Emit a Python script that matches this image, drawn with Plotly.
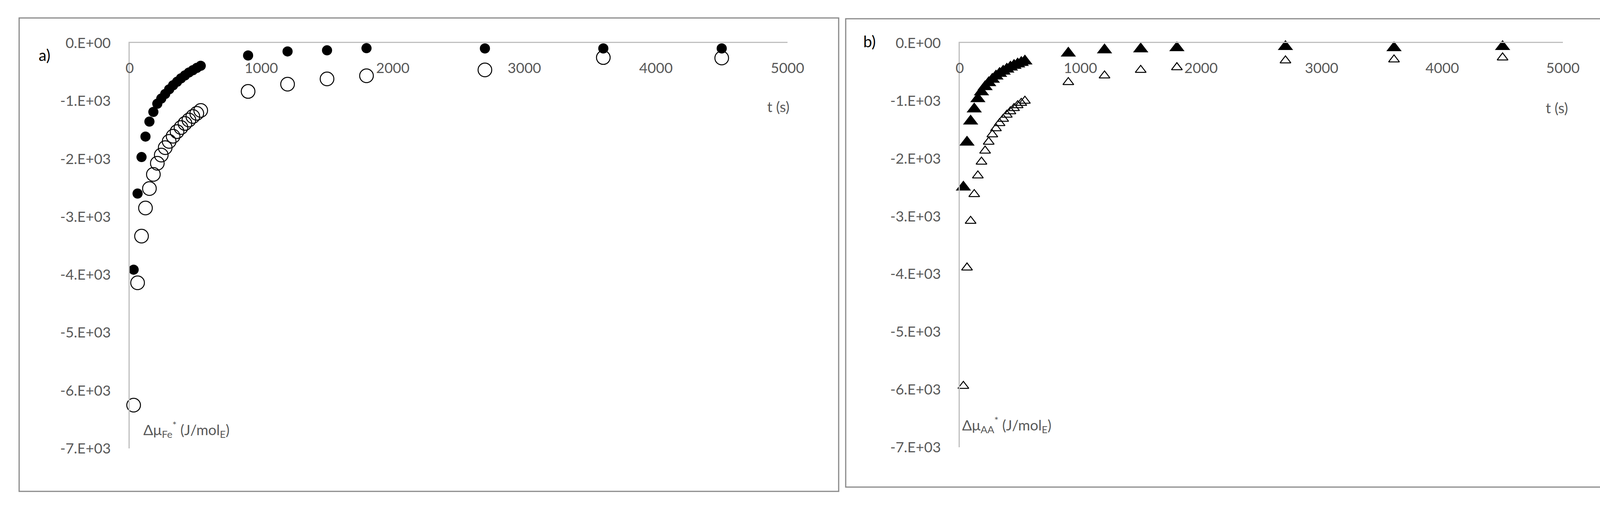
import plotly.graph_objects as go

# time points (s), same for both panels
t = [30, 60, 90, 120, 150, 180, 210, 240, 270, 300, 330, 360, 390, 420, 450,
     480, 510, 540, 900, 1200, 1500, 1800, 2700, 3600, 4500]

# panel a) Fe
fe_filled = [-3914, -2600, -1970, -1616, -1357, -1190, -1049, -960, -880, -800,
             -730, -670, -610, -560, -510, -470, -430, -394, -216, -146, -127,
             -90, -94, -94, -94]
fe_open = [-6253, -4141, -3335, -2850, -2513, -2270, -2077, -1935, -1808, -1700,
           -1610, -1530, -1460, -1390, -1330, -1270, -1215, -1165, -837, -711,
           -621, -566, -466, -252, -259]

# panel b) AA
aa_filled = [-2498, -1720, -1355, -1144, -967, -849, -760, -690, -630, -575,
             -530, -490, -455, -420, -390, -365, -340, -315, -177, -121, -104,
             -84, -65, -84, -65]
aa_open = [-5940, -3890, -3083, -2619, -2296, -2057, -1866, -1712, -1585, -1480,
           -1390, -1315, -1245, -1185, -1130, -1080, -1040, -1003, -680, -565,
           -469, -422, -304, -287, -253]

x_ticks = [0, 1000, 2000, 3000, 4000, 5000]
y_ticks = [0, -1000, -2000, -3000, -4000, -5000, -6000, -7000]
y_ticktext = ["0.E+00", "-1.E+03", "-2.E+03", "-3.E+03", "-4.E+03",
              "-5.E+03", "-6.E+03", "-7.E+03"]

W, H = 4180, 1298
FONT = "Lato"
GRAY_TXT = "#595959"
AXIS_COL = "#bfbfbf"
BORDER = "#898989"


def px(x):
    return x / W


def py(y):
    return 1 - y / H


fig = go.Figure()

# open markers first so the filled ones sit on top
fig.add_trace(go.Scatter(x=t, y=fe_open, mode="markers", cliponaxis=False,
                         marker=dict(symbol="circle-open", size=35, color="black",
                                     line=dict(width=2.5, color="black")),
                         xaxis="x", yaxis="y"))
fig.add_trace(go.Scatter(x=t, y=fe_filled, mode="markers", cliponaxis=False,
                         marker=dict(symbol="circle", size=26, color="black"),
                         xaxis="x", yaxis="y"))
fig.add_trace(go.Scatter(x=t, y=aa_open, mode="markers", cliponaxis=False,
                         marker=dict(symbol="triangle-up-open", size=24, color="black",
                                     line=dict(width=2.5, color="black")),
                         xaxis="x2", yaxis="y2"))
fig.add_trace(go.Scatter(x=t, y=aa_filled, mode="markers", cliponaxis=False,
                         marker=dict(symbol="triangle-up", size=34, color="black"),
                         xaxis="x2", yaxis="y2"))

xaxis_common = dict(range=[0, 5000], tickvals=x_ticks, side="top",
                    ticklabelposition="inside", ticklabelstandoff=56,
                    ticklabeloverflow="allow", automargin=False,
                    showline=True, linecolor=AXIS_COL, linewidth=3,
                    showgrid=False, zeroline=False, ticks="",
                    tickfont=dict(family=FONT, size=37, color=GRAY_TXT))
yaxis_common = dict(range=[-7000, 0], tickvals=y_ticks, ticktext=y_ticktext,
                    showline=True, linecolor=AXIS_COL, linewidth=3,
                    showgrid=False, zeroline=False, ticks="",
                    ticklabelstandoff=38, ticklabeloverflow="allow",
                    automargin=False,
                    tickfont=dict(family=FONT, size=37, color=GRAY_TXT))

fig.update_layout(
    width=W, height=H,
    margin=dict(l=0, r=0, t=0, b=0, pad=0, autoexpand=False),
    paper_bgcolor="white", plot_bgcolor="white",
    showlegend=False,
    xaxis=dict(xaxis_common, domain=[px(332), px(2016)], anchor="y"),
    yaxis=dict(yaxis_common, domain=[py(1148), py(110)], anchor="x"),
    xaxis2=dict(xaxis_common, domain=[px(2457), px(4001)], anchor="y2"),
    yaxis2=dict(yaxis_common, domain=[py(1145), py(110)], anchor="x2"),
)

# chart frames
fig.add_shape(type="rect", xref="paper", yref="paper",
              x0=px(49), x1=px(2147), y0=py(1258), y1=py(46),
              line=dict(color=BORDER, width=3))
fig.add_shape(type="rect", xref="paper", yref="paper",
              x0=px(2165), x1=px(4127), y0=py(1247), y1=py(48),
              line=dict(color=BORDER, width=3))

lab_font = dict(family=FONT, size=40, color="black")
ax_font = dict(family=FONT, size=37, color=GRAY_TXT)


def label(text, x, y, font, xanchor="center"):
    fig.add_annotation(text=text, x=px(x), y=py(y), xref="paper", yref="paper",
                       xanchor=xanchor, yanchor="middle", showarrow=False,
                       font=font)


label("a)", 114, 141, lab_font)
label("b)", 2226, 106, lab_font)
label("t (s)", 1992, 272, ax_font)
label("t (s)", 3985, 275, ax_font)
label("Δμ<sub>Fe</sub><sup>*</sup> (J/mol<sub>E</sub>)", 365, 1099, ax_font, "left")
label("Δμ<sub>AA</sub><sup>*</sup> (J/mol<sub>E</sub>)", 2461, 1087, ax_font, "left")

# drop the default page margin so the figure sits at the window origin
fig.write_html("out.html",
               config={"displayModeBar": False},
               post_script="document.body.style.margin='0';"
                           "document.body.style.overflow='hidden';")
